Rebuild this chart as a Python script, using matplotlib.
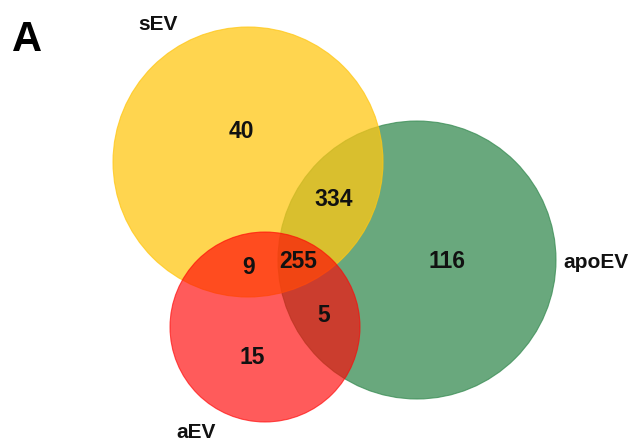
import matplotlib.pyplot as plt
from matplotlib.patches import Circle

# region counts (Venn of three EV fractions)
set_names = ["sEV", "apoEV", "aEV"]
region_labels = ["40", "334", "116", "9", "255", "5", "15"]

# layout (pixel coords of the 636x443 canvas, y downwards)
circle_centers = [(248, 162), (417, 260), (265, 327)]
circle_radii = [135, 139, 95]
circle_colors = ["#FFC714", "#378B52", "#FF0606"]
circle_alpha = [0.75, 0.75, 0.66]
draw_order = [1, 0, 2]   # green under yellow, red on top

region_pos = [(241, 132), (334, 199), (447, 261), (249, 268),
              (298, 261), (324, 315), (252, 357)]
name_pos = [(158, 24), (563, 263), (196, 432)]
name_ha = ["center", "left", "center"]

plt.rcParams["font.family"] = ["Liberation Sans", "DejaVu Sans"]

fig = plt.figure(figsize=(6.36, 4.43), dpi=100)
ax = fig.add_axes([0, 0, 1, 1])
ax.set_xlim(0, 636)
ax.set_ylim(443, 0)
ax.set_aspect("equal")
ax.axis("off")

for i in draw_order:
    c = Circle(circle_centers[i], circle_radii[i], facecolor=circle_colors[i],
               edgecolor=circle_colors[i], linewidth=0.8, alpha=circle_alpha[i])
    ax.add_patch(c)

for lab, (x, y) in zip(region_labels, region_pos):
    ax.text(x, y, lab, ha="center", va="center", fontsize=16.5,
            fontweight="bold", color="#111111")

for name, (x, y), ha in zip(set_names, name_pos, name_ha):
    ax.text(x, y, name, ha=ha, va="center", fontsize=15,
            fontweight="bold", color="#111111")

ax.text(12, 40, "A", ha="left", va="center", fontsize=30,
        fontweight="bold", color="black")

fig.savefig("out.png", dpi=100)
